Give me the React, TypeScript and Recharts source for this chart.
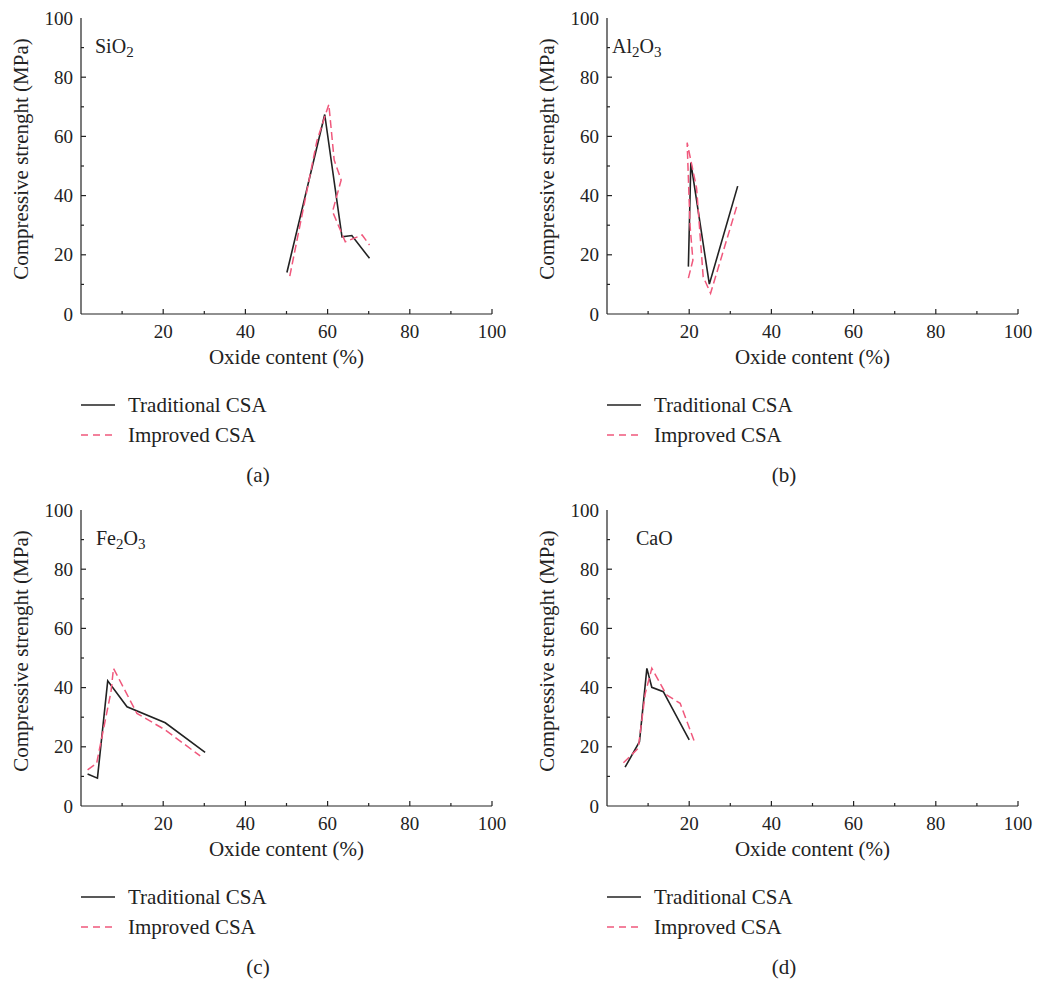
import React from 'react';
import { LineChart, Line, XAxis, YAxis, Legend, Label } from 'recharts';

const FONT = '"Liberation Serif", "Times New Roman", serif';
const INK = '#222222';
const PINK = '#f0587c';

// Panel (a) SiO2
const siTradX = [50.1, 59.3, 63.5, 65.9, 70.2];
const siTradY = [14.0, 67.4, 26.1, 26.5, 18.8];
const siImpX = [50.8, 57.4, 60.3, 61.6, 63.3, 61.2, 64.3, 68.4, 70.2];
const siImpY = [12.8, 58.5, 70.8, 52.0, 45.3, 34.6, 24.4, 26.7, 23.3];

// Panel (b) Al2O3
const alTradX = [19.8, 20.4, 24.9, 31.8];
const alTradY = [16.0, 51.1, 10.1, 43.2];
const alImpX = [19.8, 20.9, 20.2, 19.5, 21.8, 23.4, 25.2, 31.8];
const alImpY = [12.1, 18.2, 30.0, 57.9, 42.5, 12.6, 7.0, 37.4];

// Panel (c) Fe2O3
const feTradX = [1.6, 4.0, 6.5, 11.2, 20.5, 30.2];
const feTradY = [10.8, 9.4, 42.3, 33.5, 28.1, 18.1];
const feImpX = [1.6, 3.8, 7.3, 7.9, 13.6, 20.5, 29.0];
const feImpY = [12.2, 14.4, 38.6, 46.5, 31.3, 25.7, 16.9];

// Panel (d) CaO
const caTradX = [4.4, 7.9, 9.7, 10.9, 13.7, 20.0];
const caTradY = [13.1, 21.7, 46.5, 40.1, 38.6, 22.3];
const caImpX = [4.0, 7.6, 9.3, 10.9, 14.5, 17.8, 21.2];
const caImpY = [14.6, 19.5, 38.0, 46.5, 37.5, 34.7, 22.0];

const xTicks = [10, 20, 30, 40, 50, 60, 70, 80, 90, 100];
const yTicks = [0, 10, 20, 30, 40, 50, 60, 70, 80, 90, 100];
const seriesNames = ['Traditional CSA', 'Improved CSA'];
const xTitle = 'Oxide content (%)';
const yTitle = 'Compressive strenght (MPa)';

const zip = (xs: number[], ys: number[]) => xs.map((x, i) => ({ x, y: ys[i] }));

const STEP_X = 526;
const STEP_Y = 492;
const W = 520;
const H = 492;
const LEGEND_H = 60;

const XTick = (props: any) => {
  const { x, y, payload } = props;
  const v = payload.value;
  const major = v % 20 === 0;
  return (
    <g>
      <line x1={x} x2={x} y1={y} y2={y - (major ? 5 : 3)} stroke={INK} strokeWidth={1.2} />
      {major && (
        <text x={x} y={y + 24} textAnchor="middle" fontFamily={FONT} fontSize={19} fill={INK}>
          {v}
        </text>
      )}
    </g>
  );
};

const YTick = (props: any) => {
  const { x, y, payload } = props;
  const v = payload.value;
  const major = v % 20 === 0;
  return (
    <g>
      {v !== 0 && v !== 100 && (
        <line x1={x} x2={x + (major ? 5 : 3)} y1={y} y2={y} stroke={INK} strokeWidth={1.2} />
      )}
      {major && (
        <text x={x - 8} y={y + 6.5} textAnchor="end" fontFamily={FONT} fontSize={19} fill={INK}>
          {v}
        </text>
      )}
    </g>
  );
};

const LegendBox = () => (
  <div style={{ fontFamily: FONT, fontSize: 21, color: INK, lineHeight: '30px' }}>
    {seriesNames.map((n, i) => (
      <div key={n} style={{ display: 'flex', alignItems: 'center', height: 30 }}>
        <svg width={36} height={4} style={{ marginRight: 12 }}>
          <line
            x1={1}
            x2={35}
            y1={2}
            y2={2}
            stroke={i === 0 ? INK : PINK}
            strokeWidth={1.5}
            strokeDasharray={i === 0 ? undefined : '7 5'}
          />
        </svg>
        <span>{n}</span>
      </div>
    ))}
  </div>
);

type PanelProps = {
  left: number;
  top: number;
  title: React.ReactNode;
  titleX: number;
  caption: string;
  trad: { x: number; y: number }[];
  imp: { x: number; y: number }[];
};

const Panel = ({ left, top, title, titleX, caption, trad, imp }: PanelProps) => (
  <div style={{ position: 'absolute', left, top, width: W, height: H }}>
    <LineChart
      width={W}
      height={H}
      margin={{ top: 18, right: W - 492, bottom: 118 - LEGEND_H, left: 0 }}
      style={{ overflow: 'visible' }}
    >
      <XAxis
        dataKey="x"
        type="number"
        domain={[0, 100]}
        ticks={xTicks}
        allowDataOverflow
        height={60}
        tickSize={0}
        tickMargin={0}
        tickLine={false}
        tick={<XTick />}
        axisLine={{ stroke: INK, strokeWidth: 1.2 }}
        interval={0}
      >
        <Label
          content={(p: any) => {
            const vb = p.viewBox || { x: 81, y: 314, width: 411, height: 60 };
            return (
              <text
                x={vb.x + vb.width / 2}
                y={vb.y + 50}
                textAnchor="middle"
                fontFamily={FONT}
                fontSize={21}
                fill={INK}
              >
                {xTitle}
              </text>
            );
          }}
        />
      </XAxis>
      <XAxis
        xAxisId="top"
        orientation="top"
        type="number"
        domain={[0, 100]}
        height={0}
        tick={false}
        tickLine={false}
        axisLine={{ stroke: INK, strokeWidth: 1.2 }}
      />
      <YAxis
        type="number"
        domain={[0, 100]}
        ticks={yTicks}
        width={81}
        tickSize={0}
        tickMargin={0}
        tickLine={false}
        tick={<YTick />}
        axisLine={{ stroke: INK, strokeWidth: 1.2 }}
        interval={0}
      >
        <Label
          content={(p: any) => {
            const vb = p.viewBox || { x: 0, y: 18, width: 81, height: 296 };
            const cx = vb.x + 21;
            const cy = vb.y + vb.height / 2 - 7;
            return (
              <text
                x={cx}
                y={cy}
                transform={`rotate(-90 ${cx} ${cy})`}
                textAnchor="middle"
                dominantBaseline="central"
                fontFamily={FONT}
                fontSize={21}
                fill={INK}
              >
                {yTitle}
              </text>
            );
          }}
        />
      </YAxis>
      <YAxis
        yAxisId="right"
        orientation="right"
        type="number"
        domain={[0, 100]}
        width={0}
        tick={false}
        tickLine={false}
        axisLine={{ stroke: INK, strokeWidth: 1.2 }}
      />
      <Line
        data={trad}
        dataKey="y"
        name={seriesNames[0]}
        stroke={INK}
        strokeWidth={1.6}
        dot={false}
        isAnimationActive={false}
      />
      <Line
        data={imp}
        dataKey="y"
        name={seriesNames[1]}
        stroke={PINK}
        strokeWidth={1.5}
        strokeDasharray="8 4"
        dot={false}
        isAnimationActive={false}
      />
      <Legend
        layout="vertical"
        align="center"
        verticalAlign="bottom"
        wrapperStyle={{ left: 80, top: 390, bottom: 'auto', width: 260, height: LEGEND_H }}
        content={() => <LegendBox />}
      />
    </LineChart>
    <div
      style={{
        position: 'absolute',
        left: titleX,
        top: 35,
        fontFamily: FONT,
        fontSize: 20,
        color: INK,
        lineHeight: '22px',
      }}
    >
      {title}
    </div>
    <div
      style={{
        position: 'absolute',
        left: 208,
        width: 100,
        top: 463,
        textAlign: 'center',
        fontFamily: FONT,
        fontSize: 21,
        color: INK,
        lineHeight: '24px',
      }}
    >
      {caption}
    </div>
  </div>
);

const sub = (t: string) => <sub style={{ fontSize: 15, verticalAlign: '-4px', lineHeight: 0 }}>{t}</sub>;

export default function App() {
  return (
    <div
      style={{
        position: 'absolute',
        left: 0,
        top: 0,
        width: 1039,
        height: 982,
        background: '#fff',
        fontFamily: FONT,
        overflow: 'hidden',
      }}
    >
      <Panel left={0} top={0} title={<span>SiO{sub('2')}</span>} titleX={95} caption="(a)" trad={zip(siTradX, siTradY)} imp={zip(siImpX, siImpY)} />
      <Panel left={STEP_X} top={0} title={<span>Al{sub('2')}O{sub('3')}</span>} titleX={86} caption="(b)" trad={zip(alTradX, alTradY)} imp={zip(alImpX, alImpY)} />
      <Panel left={0} top={STEP_Y} title={<span>Fe{sub('2')}O{sub('3')}</span>} titleX={96} caption="(c)" trad={zip(feTradX, feTradY)} imp={zip(feImpX, feImpY)} />
      <Panel left={STEP_X} top={STEP_Y} title={<span>CaO</span>} titleX={110} caption="(d)" trad={zip(caTradX, caTradY)} imp={zip(caImpX, caImpY)} />
    </div>
  );
}
